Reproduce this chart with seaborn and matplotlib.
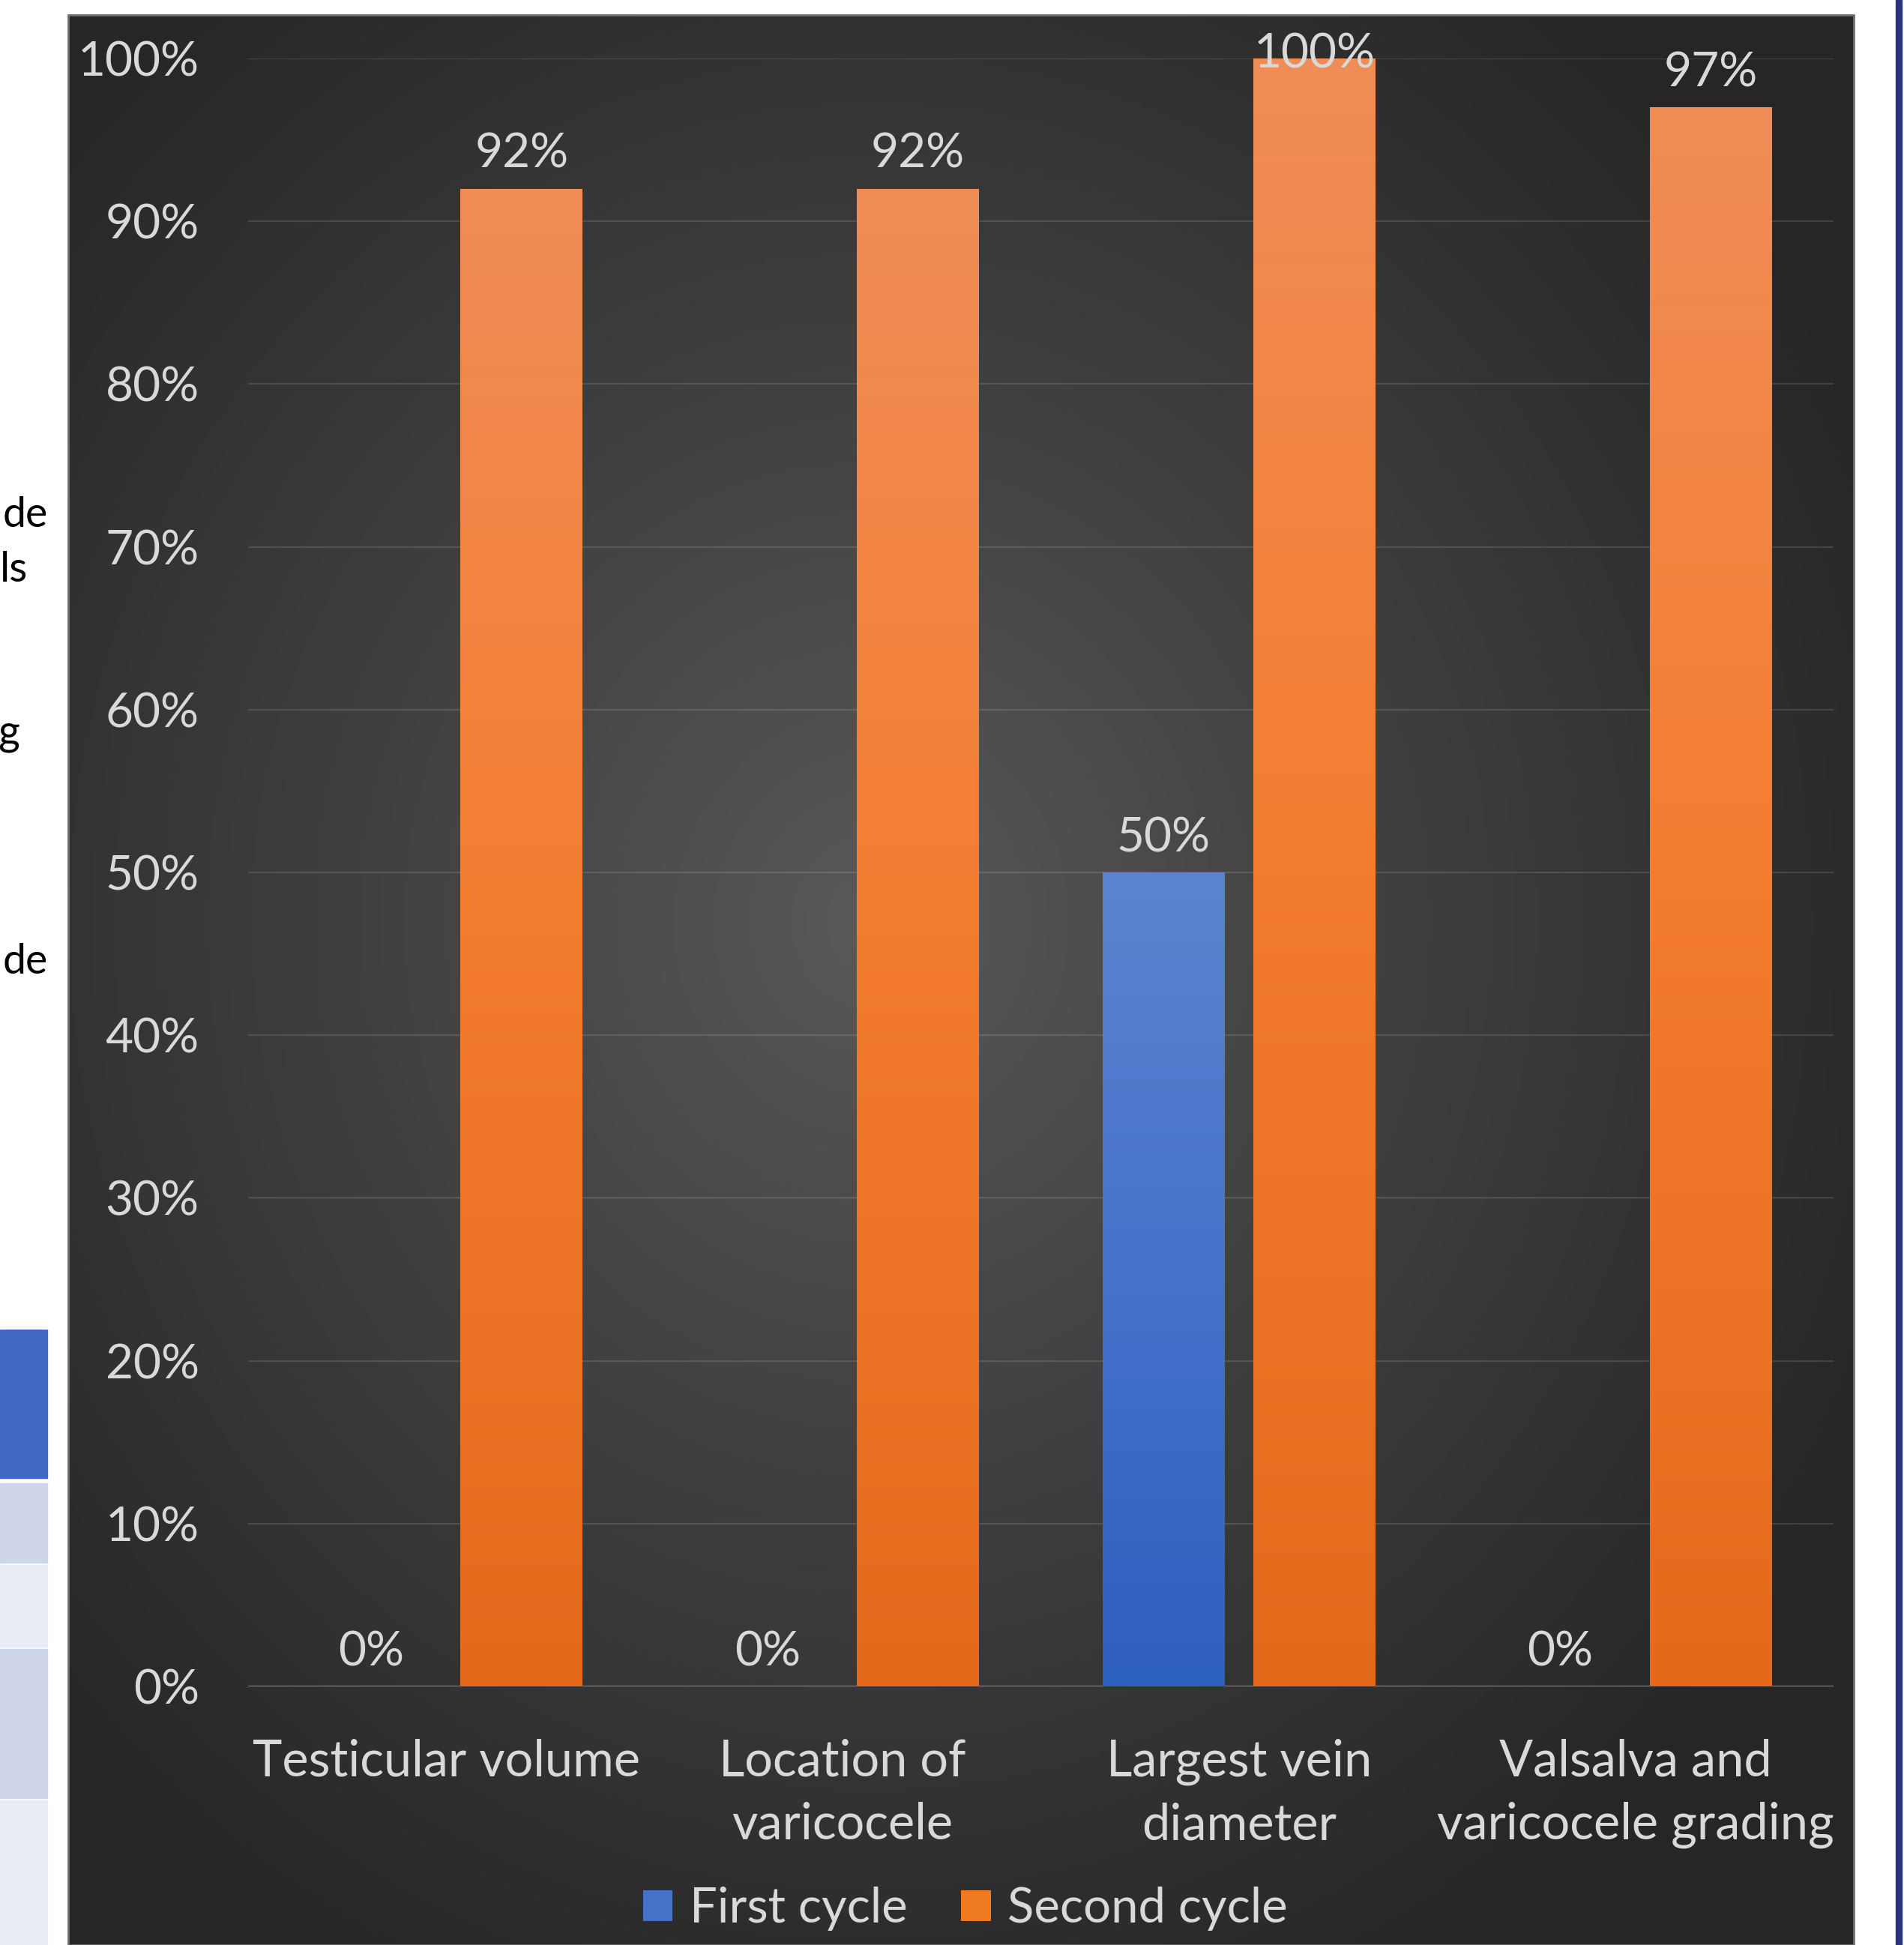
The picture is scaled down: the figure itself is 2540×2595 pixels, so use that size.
import numpy as np
import pandas as pd
import matplotlib
matplotlib.use("Agg")
import matplotlib.pyplot as plt
import seaborn as sns
from matplotlib.colors import LinearSegmentedColormap, to_rgb
from matplotlib.patches import Rectangle, Patch

# ---------------- data ----------------
categories = ["Testicular volume", "Location of\nvaricocele",
              "Largest vein\ndiameter", "Valsalva and\nvaricocele grading"]
series_names = ["First cycle", "Second cycle"]
first_cycle = [0.00, 0.00, 0.50, 0.00]
second_cycle = [0.92, 0.92, 1.00, 0.97]
first_labels = ["0%", "0%", "50%", "0%"]
second_labels = ["92%", "92%", "100%", "97%"]
y_ticks = [0.0, 0.1, 0.2, 0.3, 0.4, 0.5, 0.6, 0.7, 0.8, 0.9, 1.0]
y_tick_labels = ["0%", "10%", "20%", "30%", "40%", "50%",
                 "60%", "70%", "80%", "90%", "100%"]
side_fragments = ["de", "ls", "g", "de"]

# ---------------- figure ----------------
W, H, DPI = 2540, 2595, 100
sns.set_theme(style="white")
plt.rcParams["font.family"] = ["Lato", "DejaVu Sans"]
fig = plt.figure(figsize=(W / DPI, H / DPI), dpi=DPI)
fig.patch.set_facecolor("white")


def fx(px):
    return px / W


def fy(py):
    return 1 - py / H


TXT = "#D9D9D9"

# dark chart panel with radial gradient
P_L, P_R, P_T, P_B = 91, 2473, 20, 2595
bg_ax = fig.add_axes([fx(P_L), fy(P_B), (P_R - P_L) / W, (P_B - P_T) / H], zorder=0)
ny, nx = 500, 500
yy, xx = np.mgrid[0:1:ny * 1j, 0:1:nx * 1j]
cx, cy = 0.45, 0.47
d = np.sqrt(((xx - cx) / 0.62) ** 2 + ((yy - cy) / 0.62) ** 2)
t = np.clip(d, 0, 1) ** 0.9
c_in = np.array(to_rgb("#5A5A5A"))
c_out = np.array(to_rgb("#262626"))
img = c_in * (1 - t[..., None]) + c_out * t[..., None]
bg_ax.imshow(img, extent=[0, 1, 0, 1], origin="upper", aspect="auto")
bg_ax.set_xlim(0, 1)
bg_ax.set_ylim(0, 1)
bg_ax.axis("off")
fig.patches.append(Rectangle((fx(P_L), 0), (P_R - P_L) / W, (P_B - P_T) / H,
                             transform=fig.transFigure, fill=False,
                             edgecolor="#6E6E6E", lw=2, zorder=1))

# ---------------- main plot ----------------
ax = fig.add_axes([fx(331), fy(2250), (2446 - 331) / W, (2250 - 78) / H], zorder=2)
ax.set_facecolor("none")

df = pd.DataFrame({
    "Category": categories * 2,
    "Value": first_cycle + second_cycle,
    "Cycle": [series_names[0]] * 4 + [series_names[1]] * 4,
})
sns.barplot(data=df, x="Category", y="Value", hue="Cycle",
            order=categories, hue_order=series_names,
            palette=["#4472C4", "#F07A2A"], saturation=1,
            width=0.76, gap=0.19, legend=False, ax=ax, zorder=3,
            linewidth=0, edgecolor="none")

grads = [["#5B83D0", "#4572CA", "#2D5FC0"],
         ["#F08D57", "#F47C2F", "#E4691B"]]
for cont, stops in zip(ax.containers, grads):
    cmap = LinearSegmentedColormap.from_list("g", stops)
    for p in cont.patches:
        h = p.get_height()
        if h <= 0:
            continue
        x0, w = p.get_x(), p.get_width()
        g = np.linspace(0, 1, 256)[:, None]
        im = ax.imshow(g, extent=[x0, x0 + w, 0, h], origin="upper",
                       cmap=cmap, aspect="auto", zorder=3.5)
        im.set_clip_path(p)

ax.set_xlim(-0.5, 3.5)
ax.set_ylim(0, 1)
ax.set_yticks(y_ticks)
ax.set_yticklabels(y_tick_labels)
ax.set_xticks(range(len(categories)))
ax.set_xticklabels(categories, linespacing=1.45)
ax.set_xlabel("")
ax.set_ylabel("")
ax.tick_params(axis="y", length=0, pad=47, labelsize=46, labelcolor=TXT)
ax.tick_params(axis="x", length=0, pad=50, labelsize=48, labelcolor=TXT)
for s in ax.spines.values():
    s.set_visible(False)
ax.grid(axis="y", color="white", alpha=0.12, lw=1.6)
ax.grid(axis="x", visible=False)
ax.set_axisbelow(True)
ax.axhline(0, color="#8C8C8C", lw=2.2, zorder=2)

for cont, labels in zip(ax.containers, [first_labels, second_labels]):
    for p, lab in zip(cont.patches, labels):
        xc = p.get_x() + p.get_width() / 2
        h = p.get_height()
        off = 4 if h >= 0.99 else 33
        ax.annotate(lab, (xc, h), xytext=(0, off), textcoords="offset points",
                    ha="center", va="center", fontsize=46, color=TXT,
                    zorder=5, annotation_clip=False)

handles = [Patch(facecolor="#4472C4", edgecolor="none"),
           Patch(facecolor="#F07A22", edgecolor="none")]
fig.legend(handles, series_names, loc="center",
           bbox_to_anchor=(fx(1288), fy(2547)), ncol=2, frameon=False,
           fontsize=47, labelcolor=TXT, handlelength=0.6, handleheight=0.6,
           handletextpad=0.35, columnspacing=1.1)

# ---------------- surrounding screenshot fragments ----------------
frag_pos = [(64, 703), (37, 776), (26, 993), (64, 1299)]
for (px, py), s in zip(frag_pos, side_fragments):
    fig.text(fx(px), fy(py), s, ha="right", va="baseline",
             fontsize=40, color="black")

rows = [(1774, 1972, "#4169C4"), (1979, 2085, "#CFD5EA"),
        (2088, 2197, "#E9EBF5"), (2200, 2399, "#CFD5EA"),
        (2402, 2595, "#E9EBF5")]
for y0, y1, c in rows:
    fig.patches.append(Rectangle((0, fy(y1)), fx(63), (y1 - y0) / H,
                                 transform=fig.transFigure, color=c, zorder=1))
fig.patches.append(Rectangle((fx(2529), 0), fx(8), 1, transform=fig.transFigure,
                             color="#27367A", zorder=1))

fig.savefig("out.png", dpi=DPI, facecolor="white")
